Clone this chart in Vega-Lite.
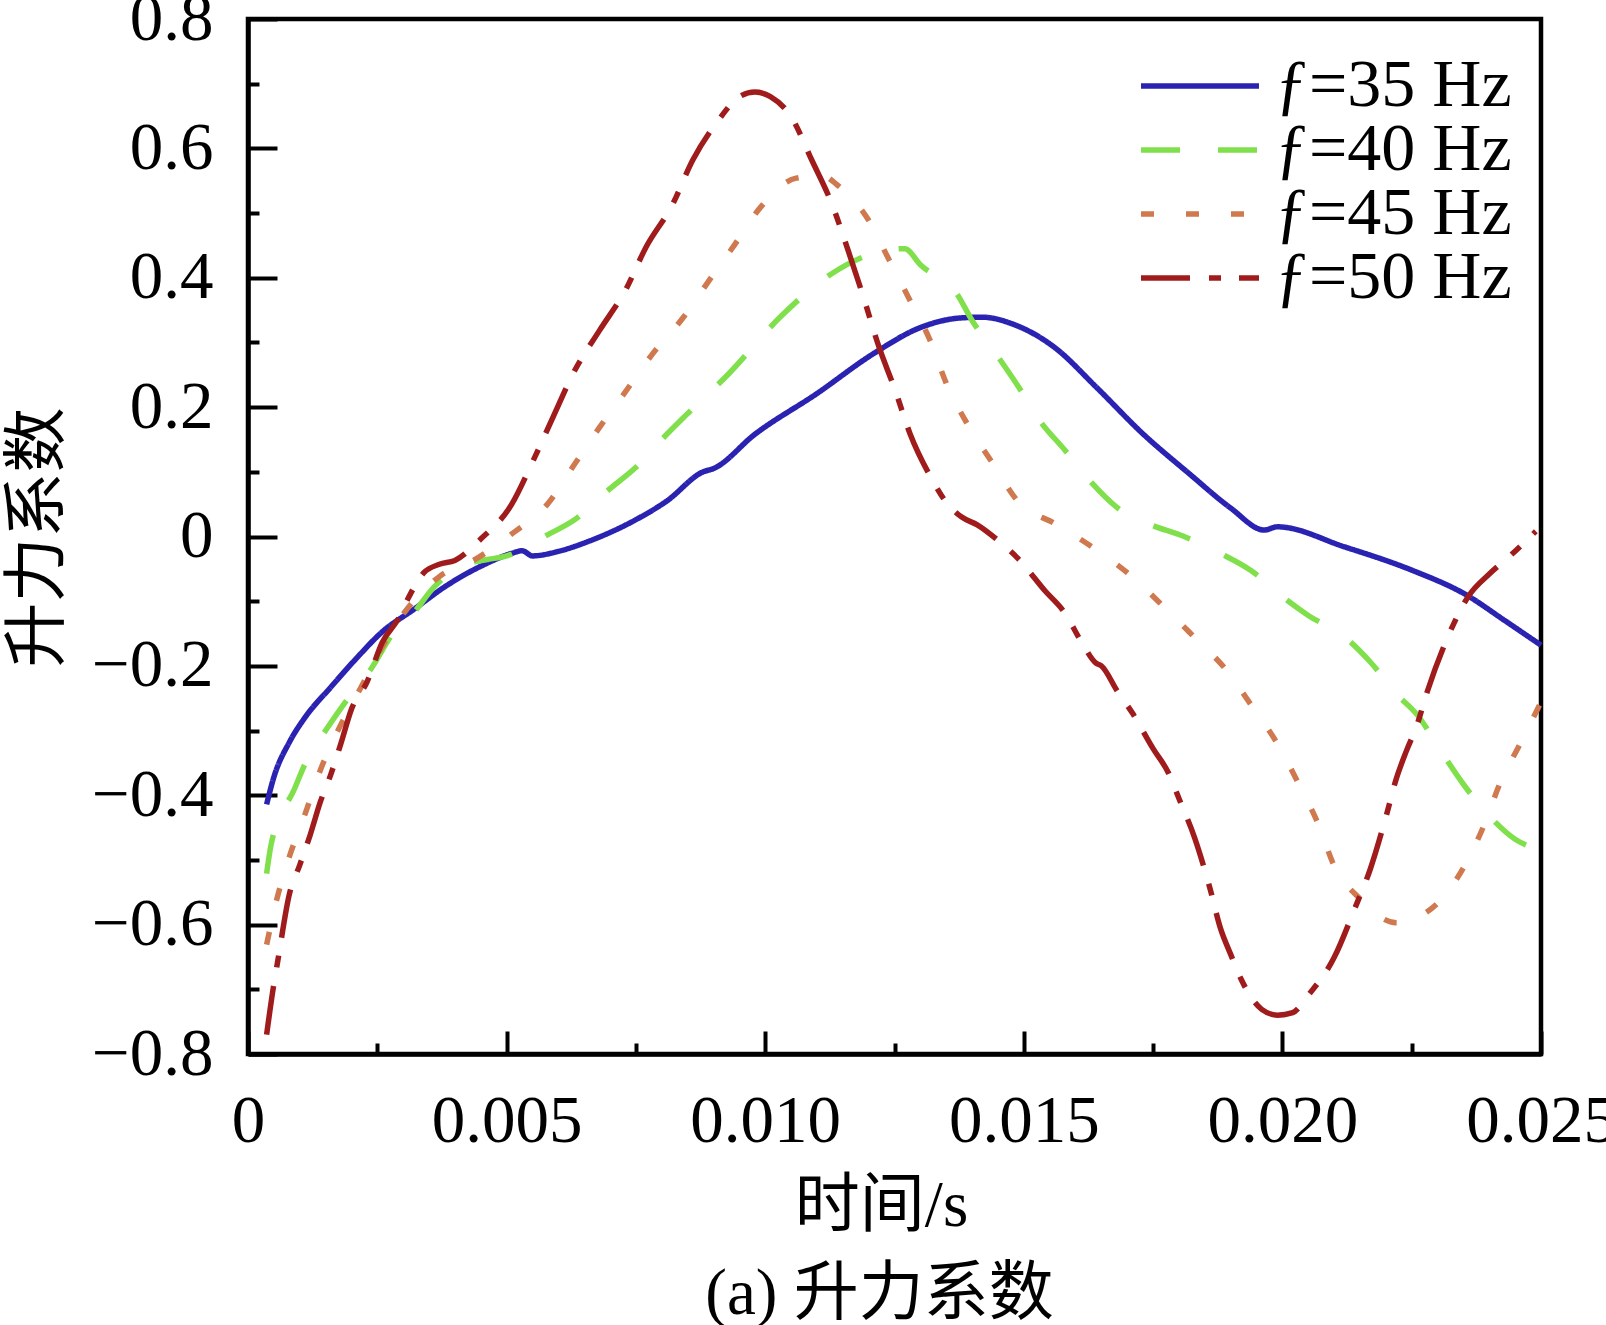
{
  "$schema": "https://vega.github.io/schema/vega-lite/v6.json",
  "width": 1293,
  "height": 1035,
  "autosize": {"type": "none"},
  "padding": {"left": 248, "top": 19, "right": 65, "bottom": 271},
  "background": "white",
  "title": {"text": "(a) 升力系数", "orient": "bottom", "font": "Liberation Serif, Noto Sans CJK SC", "fontSize": 65, "fontWeight": "normal", "color": "black", "offset": 25, "dx": -15},
  "data": {"values": [
    {"series": "ƒ=35 Hz", "t": 0.00036, "cl": -0.414}, {"series": "ƒ=35 Hz", "t": 0.0005, "cl": -0.372}, {"series": "ƒ=35 Hz", "t": 0.0008, "cl": -0.318},
    {"series": "ƒ=35 Hz", "t": 0.0011, "cl": -0.28}, {"series": "ƒ=35 Hz", "t": 0.0016, "cl": -0.233}, {"series": "ƒ=35 Hz", "t": 0.0021, "cl": -0.188},
    {"series": "ƒ=35 Hz", "t": 0.0026, "cl": -0.147}, {"series": "ƒ=35 Hz", "t": 0.0032, "cl": -0.113}, {"series": "ƒ=35 Hz", "t": 0.0038, "cl": -0.078},
    {"series": "ƒ=35 Hz", "t": 0.0045, "cl": -0.046}, {"series": "ƒ=35 Hz", "t": 0.0051, "cl": -0.026}, {"series": "ƒ=35 Hz", "t": 0.0053, "cl": -0.022},
    {"series": "ƒ=35 Hz", "t": 0.0055, "cl": -0.03}, {"series": "ƒ=35 Hz", "t": 0.006, "cl": -0.023}, {"series": "ƒ=35 Hz", "t": 0.0066, "cl": -0.007},
    {"series": "ƒ=35 Hz", "t": 0.0075, "cl": 0.026}, {"series": "ƒ=35 Hz", "t": 0.0081, "cl": 0.055}, {"series": "ƒ=35 Hz", "t": 0.0088, "cl": 0.1},
    {"series": "ƒ=35 Hz", "t": 0.009, "cl": 0.105}, {"series": "ƒ=35 Hz", "t": 0.0098, "cl": 0.158}, {"series": "ƒ=35 Hz", "t": 0.011, "cl": 0.221},
    {"series": "ƒ=35 Hz", "t": 0.0121, "cl": 0.283}, {"series": "ƒ=35 Hz", "t": 0.013, "cl": 0.323}, {"series": "ƒ=35 Hz", "t": 0.0138, "cl": 0.338},
    {"series": "ƒ=35 Hz", "t": 0.0142, "cl": 0.339}, {"series": "ƒ=35 Hz", "t": 0.0148, "cl": 0.328}, {"series": "ƒ=35 Hz", "t": 0.0156, "cl": 0.292},
    {"series": "ƒ=35 Hz", "t": 0.0164, "cl": 0.231}, {"series": "ƒ=35 Hz", "t": 0.0173, "cl": 0.159}, {"series": "ƒ=35 Hz", "t": 0.0182, "cl": 0.097},
    {"series": "ƒ=35 Hz", "t": 0.019, "cl": 0.044}, {"series": "ƒ=35 Hz", "t": 0.01965, "cl": 0.01}, {"series": "ƒ=35 Hz", "t": 0.0199, "cl": 0.015},
    {"series": "ƒ=35 Hz", "t": 0.0212, "cl": -0.016}, {"series": "ƒ=35 Hz", "t": 0.0225, "cl": -0.052}, {"series": "ƒ=35 Hz", "t": 0.02355, "cl": -0.09},
    {"series": "ƒ=35 Hz", "t": 0.0243, "cl": -0.13}, {"series": "ƒ=35 Hz", "t": 0.025, "cl": -0.168},

    {"series": "ƒ=40 Hz", "t": 0.00036, "cl": -0.521}, {"series": "ƒ=40 Hz", "t": 0.00045, "cl": -0.475}, {"series": "ƒ=40 Hz", "t": 0.0009, "cl": -0.39},
    {"series": "ƒ=40 Hz", "t": 0.0011, "cl": -0.352}, {"series": "ƒ=40 Hz", "t": 0.0015, "cl": -0.3}, {"series": "ƒ=40 Hz", "t": 0.0019, "cl": -0.254},
    {"series": "ƒ=40 Hz", "t": 0.0024, "cl": -0.202}, {"series": "ƒ=40 Hz", "t": 0.0028, "cl": -0.15}, {"series": "ƒ=40 Hz", "t": 0.0032, "cl": -0.118},
    {"series": "ƒ=40 Hz", "t": 0.0036, "cl": -0.078}, {"series": "ƒ=40 Hz", "t": 0.0041, "cl": -0.046}, {"series": "ƒ=40 Hz", "t": 0.0046, "cl": -0.036},
    {"series": "ƒ=40 Hz", "t": 0.005, "cl": -0.03}, {"series": "ƒ=40 Hz", "t": 0.0058, "cl": 0.003}, {"series": "ƒ=40 Hz", "t": 0.0063, "cl": 0.025},
    {"series": "ƒ=40 Hz", "t": 0.007, "cl": 0.074}, {"series": "ƒ=40 Hz", "t": 0.0075, "cl": 0.107}, {"series": "ƒ=40 Hz", "t": 0.008, "cl": 0.15},
    {"series": "ƒ=40 Hz", "t": 0.0085, "cl": 0.19}, {"series": "ƒ=40 Hz", "t": 0.0093, "cl": 0.252}, {"series": "ƒ=40 Hz", "t": 0.0103, "cl": 0.34},
    {"series": "ƒ=40 Hz", "t": 0.0113, "cl": 0.407}, {"series": "ƒ=40 Hz", "t": 0.0122, "cl": 0.44}, {"series": "ƒ=40 Hz", "t": 0.0127, "cl": 0.445},
    {"series": "ƒ=40 Hz", "t": 0.013, "cl": 0.42}, {"series": "ƒ=40 Hz", "t": 0.0137, "cl": 0.376}, {"series": "ƒ=40 Hz", "t": 0.014, "cl": 0.334},
    {"series": "ƒ=40 Hz", "t": 0.0145, "cl": 0.278}, {"series": "ƒ=40 Hz", "t": 0.0149, "cl": 0.231}, {"series": "ƒ=40 Hz", "t": 0.0153, "cl": 0.18},
    {"series": "ƒ=40 Hz", "t": 0.0158, "cl": 0.133}, {"series": "ƒ=40 Hz", "t": 0.0163, "cl": 0.084}, {"series": "ƒ=40 Hz", "t": 0.0168, "cl": 0.045},
    {"series": "ƒ=40 Hz", "t": 0.0174, "cl": 0.02}, {"series": "ƒ=40 Hz", "t": 0.0181, "cl": 0.0}, {"series": "ƒ=40 Hz", "t": 0.0188, "cl": -0.026},
    {"series": "ƒ=40 Hz", "t": 0.0194, "cl": -0.053}, {"series": "ƒ=40 Hz", "t": 0.02, "cl": -0.093}, {"series": "ƒ=40 Hz", "t": 0.0205, "cl": -0.122},
    {"series": "ƒ=40 Hz", "t": 0.0212, "cl": -0.155}, {"series": "ƒ=40 Hz", "t": 0.0217, "cl": -0.194}, {"series": "ƒ=40 Hz", "t": 0.0222, "cl": -0.243},
    {"series": "ƒ=40 Hz", "t": 0.0226, "cl": -0.275}, {"series": "ƒ=40 Hz", "t": 0.0231, "cl": -0.336}, {"series": "ƒ=40 Hz", "t": 0.0235, "cl": -0.383},
    {"series": "ƒ=40 Hz", "t": 0.024, "cl": -0.432}, {"series": "ƒ=40 Hz", "t": 0.0245, "cl": -0.468}, {"series": "ƒ=40 Hz", "t": 0.0248, "cl": -0.48},

    {"series": "ƒ=45 Hz", "t": 0.00036, "cl": -0.631}, {"series": "ƒ=45 Hz", "t": 0.00055, "cl": -0.563}, {"series": "ƒ=45 Hz", "t": 0.0008, "cl": -0.495},
    {"series": "ƒ=45 Hz", "t": 0.0011, "cl": -0.43}, {"series": "ƒ=45 Hz", "t": 0.0014, "cl": -0.361}, {"series": "ƒ=45 Hz", "t": 0.0018, "cl": -0.29},
    {"series": "ƒ=45 Hz", "t": 0.0022, "cl": -0.231}, {"series": "ƒ=45 Hz", "t": 0.0026, "cl": -0.17}, {"series": "ƒ=45 Hz", "t": 0.003, "cl": -0.12},
    {"series": "ƒ=45 Hz", "t": 0.0037, "cl": -0.062}, {"series": "ƒ=45 Hz", "t": 0.0044, "cl": -0.035}, {"series": "ƒ=45 Hz", "t": 0.0051, "cl": 0.004},
    {"series": "ƒ=45 Hz", "t": 0.0058, "cl": 0.051}, {"series": "ƒ=45 Hz", "t": 0.0063, "cl": 0.11}, {"series": "ƒ=45 Hz", "t": 0.0068, "cl": 0.169},
    {"series": "ƒ=45 Hz", "t": 0.0073, "cl": 0.224}, {"series": "ƒ=45 Hz", "t": 0.0078, "cl": 0.28}, {"series": "ƒ=45 Hz", "t": 0.0084, "cl": 0.337},
    {"series": "ƒ=45 Hz", "t": 0.0089, "cl": 0.394}, {"series": "ƒ=45 Hz", "t": 0.0094, "cl": 0.45}, {"series": "ƒ=45 Hz", "t": 0.0099, "cl": 0.508},
    {"series": "ƒ=45 Hz", "t": 0.0106, "cl": 0.554}, {"series": "ƒ=45 Hz", "t": 0.0111, "cl": 0.558}, {"series": "ƒ=45 Hz", "t": 0.0114, "cl": 0.543},
    {"series": "ƒ=45 Hz", "t": 0.012, "cl": 0.489}, {"series": "ƒ=45 Hz", "t": 0.0124, "cl": 0.427}, {"series": "ƒ=45 Hz", "t": 0.0128, "cl": 0.365},
    {"series": "ƒ=45 Hz", "t": 0.0132, "cl": 0.301}, {"series": "ƒ=45 Hz", "t": 0.0135, "cl": 0.237}, {"series": "ƒ=45 Hz", "t": 0.0139, "cl": 0.175},
    {"series": "ƒ=45 Hz", "t": 0.0144, "cl": 0.113}, {"series": "ƒ=45 Hz", "t": 0.0149, "cl": 0.053}, {"series": "ƒ=45 Hz", "t": 0.0156, "cl": 0.02},
    {"series": "ƒ=45 Hz", "t": 0.0163, "cl": -0.015}, {"series": "ƒ=45 Hz", "t": 0.017, "cl": -0.056}, {"series": "ƒ=45 Hz", "t": 0.0177, "cl": -0.108},
    {"series": "ƒ=45 Hz", "t": 0.0183, "cl": -0.156}, {"series": "ƒ=45 Hz", "t": 0.0189, "cl": -0.205}, {"series": "ƒ=45 Hz", "t": 0.0194, "cl": -0.261},
    {"series": "ƒ=45 Hz", "t": 0.0199, "cl": -0.32}, {"series": "ƒ=45 Hz", "t": 0.0203, "cl": -0.38}, {"series": "ƒ=45 Hz", "t": 0.0207, "cl": -0.446},
    {"series": "ƒ=45 Hz", "t": 0.021, "cl": -0.509}, {"series": "ƒ=45 Hz", "t": 0.0215, "cl": -0.56}, {"series": "ƒ=45 Hz", "t": 0.0222, "cl": -0.597},
    {"series": "ƒ=45 Hz", "t": 0.023, "cl": -0.567}, {"series": "ƒ=45 Hz", "t": 0.0235, "cl": -0.512}, {"series": "ƒ=45 Hz", "t": 0.0239, "cl": -0.446},
    {"series": "ƒ=45 Hz", "t": 0.0242, "cl": -0.383}, {"series": "ƒ=45 Hz", "t": 0.0246, "cl": -0.32}, {"series": "ƒ=45 Hz", "t": 0.025, "cl": -0.256},

    {"series": "ƒ=50 Hz", "t": 0.00036, "cl": -0.77}, {"series": "ƒ=50 Hz", "t": 0.00049, "cl": -0.697}, {"series": "ƒ=50 Hz", "t": 0.00058, "cl": -0.654},
    {"series": "ƒ=50 Hz", "t": 0.0008, "cl": -0.553}, {"series": "ƒ=50 Hz", "t": 0.001, "cl": -0.508}, {"series": "ƒ=50 Hz", "t": 0.0012, "cl": -0.462},
    {"series": "ƒ=50 Hz", "t": 0.0014, "cl": -0.41}, {"series": "ƒ=50 Hz", "t": 0.0016, "cl": -0.368}, {"series": "ƒ=50 Hz", "t": 0.0018, "cl": -0.319},
    {"series": "ƒ=50 Hz", "t": 0.002, "cl": -0.267}, {"series": "ƒ=50 Hz", "t": 0.0023, "cl": -0.225}, {"series": "ƒ=50 Hz", "t": 0.0026, "cl": -0.163},
    {"series": "ƒ=50 Hz", "t": 0.0029, "cl": -0.128}, {"series": "ƒ=50 Hz", "t": 0.0031, "cl": -0.095}, {"series": "ƒ=50 Hz", "t": 0.0034, "cl": -0.056},
    {"series": "ƒ=50 Hz", "t": 0.0037, "cl": -0.043}, {"series": "ƒ=50 Hz", "t": 0.004, "cl": -0.037}, {"series": "ƒ=50 Hz", "t": 0.0045, "cl": -0.004},
    {"series": "ƒ=50 Hz", "t": 0.0051, "cl": 0.05}, {"series": "ƒ=50 Hz", "t": 0.0055, "cl": 0.115}, {"series": "ƒ=50 Hz", "t": 0.0059, "cl": 0.185},
    {"series": "ƒ=50 Hz", "t": 0.0063, "cl": 0.254}, {"series": "ƒ=50 Hz", "t": 0.0068, "cl": 0.319}, {"series": "ƒ=50 Hz", "t": 0.0073, "cl": 0.381},
    {"series": "ƒ=50 Hz", "t": 0.0077, "cl": 0.448}, {"series": "ƒ=50 Hz", "t": 0.0082, "cl": 0.512}, {"series": "ƒ=50 Hz", "t": 0.0086, "cl": 0.582},
    {"series": "ƒ=50 Hz", "t": 0.0091, "cl": 0.644}, {"series": "ƒ=50 Hz", "t": 0.0095, "cl": 0.68}, {"series": "ƒ=50 Hz", "t": 0.0098, "cl": 0.687},
    {"series": "ƒ=50 Hz", "t": 0.0101, "cl": 0.68}, {"series": "ƒ=50 Hz", "t": 0.0105, "cl": 0.649}, {"series": "ƒ=50 Hz", "t": 0.0109, "cl": 0.582},
    {"series": "ƒ=50 Hz", "t": 0.0113, "cl": 0.512}, {"series": "ƒ=50 Hz", "t": 0.0116, "cl": 0.443}, {"series": "ƒ=50 Hz", "t": 0.0119, "cl": 0.37},
    {"series": "ƒ=50 Hz", "t": 0.0122, "cl": 0.293}, {"series": "ƒ=50 Hz", "t": 0.0125, "cl": 0.229}, {"series": "ƒ=50 Hz", "t": 0.0128, "cl": 0.159},
    {"series": "ƒ=50 Hz", "t": 0.0132, "cl": 0.092}, {"series": "ƒ=50 Hz", "t": 0.0135, "cl": 0.053}, {"series": "ƒ=50 Hz", "t": 0.0138, "cl": 0.03},
    {"series": "ƒ=50 Hz", "t": 0.0141, "cl": 0.018}, {"series": "ƒ=50 Hz", "t": 0.0145, "cl": -0.006}, {"series": "ƒ=50 Hz", "t": 0.0149, "cl": -0.035},
    {"series": "ƒ=50 Hz", "t": 0.0154, "cl": -0.083}, {"series": "ƒ=50 Hz", "t": 0.0158, "cl": -0.119}, {"series": "ƒ=50 Hz", "t": 0.0161, "cl": -0.161},
    {"series": "ƒ=50 Hz", "t": 0.0164, "cl": -0.196}, {"series": "ƒ=50 Hz", "t": 0.0165, "cl": -0.2}, {"series": "ƒ=50 Hz", "t": 0.0168, "cl": -0.238},
    {"series": "ƒ=50 Hz", "t": 0.0171, "cl": -0.273}, {"series": "ƒ=50 Hz", "t": 0.0175, "cl": -0.328}, {"series": "ƒ=50 Hz", "t": 0.0178, "cl": -0.366},
    {"series": "ƒ=50 Hz", "t": 0.018, "cl": -0.405}, {"series": "ƒ=50 Hz", "t": 0.0183, "cl": -0.465}, {"series": "ƒ=50 Hz", "t": 0.0186, "cl": -0.544},
    {"series": "ƒ=50 Hz", "t": 0.0188, "cl": -0.605}, {"series": "ƒ=50 Hz", "t": 0.019, "cl": -0.646}, {"series": "ƒ=50 Hz", "t": 0.0192, "cl": -0.684},
    {"series": "ƒ=50 Hz", "t": 0.0196, "cl": -0.731}, {"series": "ƒ=50 Hz", "t": 0.0199, "cl": -0.74}, {"series": "ƒ=50 Hz", "t": 0.0202, "cl": -0.736},
    {"series": "ƒ=50 Hz", "t": 0.0205, "cl": -0.709}, {"series": "ƒ=50 Hz", "t": 0.021, "cl": -0.651}, {"series": "ƒ=50 Hz", "t": 0.0214, "cl": -0.575},
    {"series": "ƒ=50 Hz", "t": 0.0217, "cl": -0.514}, {"series": "ƒ=50 Hz", "t": 0.022, "cl": -0.434}, {"series": "ƒ=50 Hz", "t": 0.0222, "cl": -0.375},
    {"series": "ƒ=50 Hz", "t": 0.0224, "cl": -0.331}, {"series": "ƒ=50 Hz", "t": 0.0226, "cl": -0.292}, {"series": "ƒ=50 Hz", "t": 0.0228, "cl": -0.24},
    {"series": "ƒ=50 Hz", "t": 0.0232, "cl": -0.155}, {"series": "ƒ=50 Hz", "t": 0.0236, "cl": -0.092}, {"series": "ƒ=50 Hz", "t": 0.024, "cl": -0.058},
    {"series": "ƒ=50 Hz", "t": 0.0244, "cl": -0.03}, {"series": "ƒ=50 Hz", "t": 0.0249, "cl": 0.008}
  ]},
  "mark": {"type": "line", "interpolate": "monotone", "strokeWidth": 5.5, "strokeCap": "butt"},
  "encoding": {
    "x": {
      "field": "t", "type": "quantitative",
      "scale": {"domain": [0, 0.025], "nice": false, "zero": false},
      "axis": {
        "values": [0, 0.0025, 0.005, 0.0075, 0.01, 0.0125, 0.015, 0.0175, 0.02, 0.0225, 0.025],
        "labelExpr": "round(datum.value*1000) % 5 == 0 ? (datum.value == 0 ? '0' : format(datum.value, '.3f')) : ''",
        "tickSize": {"condition": {"test": "round(datum.value*1000) % 5 == 0", "value": -23}, "value": -11},
        "labelPadding": 57,
        "title": "时间/s",
        "titleX": 633,
        "titleY": 120,
        "titleBaseline": "top"
      }
    },
    "y": {
      "field": "cl", "type": "quantitative",
      "scale": {"domain": [-0.8, 0.8], "nice": false, "zero": false},
      "axis": {
        "values": [-0.8, -0.7, -0.6, -0.5, -0.4, -0.3, -0.2, -0.1, 0, 0.1, 0.2, 0.3, 0.4, 0.5, 0.6, 0.7, 0.8],
        "labelExpr": "round(datum.value*10) % 2 == 0 ? (datum.value == 0 ? '0' : format(datum.value, '.1f')) : ''",
        "tickSize": {"condition": {"test": "round(datum.value*10) % 2 == 0", "value": -29}, "value": -11},
        "labelPadding": 64,
        "title": "升力系数",
        "titleX": -211,
        "titleY": 518,
        "titleBaseline": "middle"
      }
    },
    "color": {
      "field": "series", "type": "nominal",
      "scale": {"domain": ["ƒ=35 Hz", "ƒ=40 Hz", "ƒ=45 Hz", "ƒ=50 Hz"], "range": ["#2a22b0", "#7fe04c", "#d0784e", "#a01c1c"]},
      "legend": {
        "orient": "none", "legendX": 890, "legendY": 37,
        "title": null, "symbolType": "stroke", "symbolSize": 13924, "symbolStrokeWidth": 5.5,
        "labelFont": "Liberation Serif", "labelFontSize": 68, "labelColor": "black", "labelOffset": 13,
        "clipHeight": 60, "rowPadding": -4, "padding": 0, "labelLimit": 400
      }
    },
    "strokeDash": {
      "field": "series", "type": "nominal",
      "scale": {"domain": ["ƒ=35 Hz", "ƒ=40 Hz", "ƒ=45 Hz", "ƒ=50 Hz"], "range": [[1, 0], [39, 38], [13, 32], [49, 19, 12, 18]]},
      "legend": null
    }
  },
  "config": {
    "view": {"stroke": "black", "strokeWidth": 4.5},
    "font": "Liberation Serif, Noto Sans CJK SC",
    "axis": {
      "grid": false, "domainColor": "black", "domainWidth": 4.5, "tickColor": "black", "tickWidth": 4,
      "labelFont": "Liberation Serif", "labelFontSize": 67, "labelColor": "black", "labelFlush": false, "labelOverlap": false,
      "titleFont": "Liberation Serif, Noto Sans CJK SC", "titleFontSize": 65, "titleFontWeight": "normal", "titleColor": "black"
    }
  }
}
